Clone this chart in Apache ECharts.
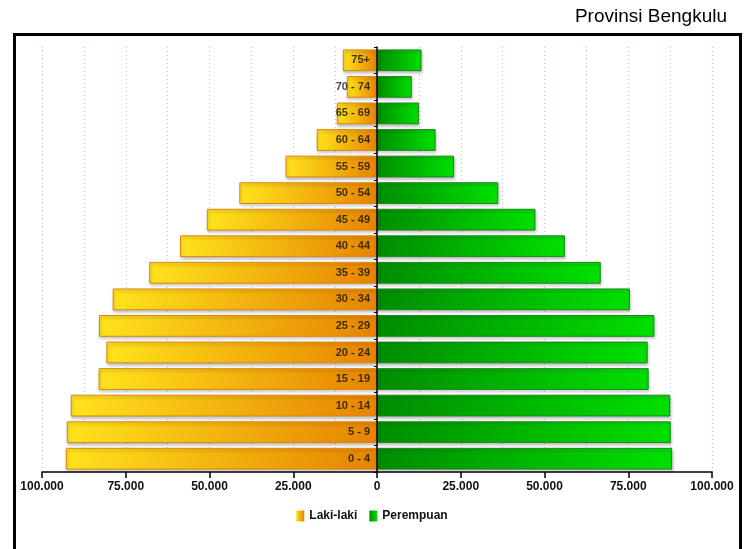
<!DOCTYPE html>
<html>
<head>
<meta charset="utf-8">
<script src="https://cdn.jsdelivr.net/npm/echarts@6/dist/echarts.min.js"></script>
<style>
  html, body { margin: 0; padding: 0; background: #fff; }
  #chart { width: 744px; height: 549px; }
</style>
</head>
<body>
<div id="chart"></div>
<script>
// Age groups, bottom to top
const categories = ['0 - 4', '5 - 9', '10 - 14', '15 - 19', '20 - 24', '25 - 29', '30 - 34', '35 - 39',
                    '40 - 44', '45 - 49', '50 - 54', '55 - 59', '60 - 64', '65 - 69', '70 - 74', '75+'];
// Male population (Laki-laki)
const male = [92900, 92600, 91400, 83100, 80800, 83000, 78900, 68000,
              58800, 50800, 41100, 27300, 18000, 12000, 9000, 10200];
// Female population (Perempuan)
const female = [88100, 87700, 87500, 81100, 80800, 82800, 75500, 66800,
                56100, 47300, 36200, 23000, 17500, 12500, 10400, 13300];

const labelFont = "'Liberation Sans', Arial, sans-serif";

function fmt(v) {
  return String(Math.abs(v)).replace(/\B(?=(\d{3})+(?!\d))/g, '.');
}

const chart = echarts.init(document.getElementById('chart'), null, { renderer: 'canvas' });

const option = {
  animation: false,
  backgroundColor: '#ffffff',
  title: {
    text: 'Provinsi Bengkulu',
    right: 12,
    top: 2,
    textStyle: { fontFamily: "'Liberation Sans', sans-serif", fontWeight: 'normal', fontSize: 19, color: '#000' }
  },
  graphic: [{
    type: 'rect',
    z: 100,
    shape: { x: 14.5, y: 34.5, width: 726, height: 600 },
    style: { fill: 'none', stroke: '#000', lineWidth: 3 },
    silent: true
  }],
  legend: {
    top: 505,
    left: 'center',
    icon: 'rect',
    itemWidth: 8,
    itemHeight: 11,
    itemGap: 12,
    itemStyle: { borderWidth: 0, shadowBlur: 0, shadowOffsetX: 0, shadowOffsetY: 0 },
    textStyle: { fontFamily: labelFont, fontWeight: 'bold', fontSize: 12, color: '#111' },
    data: ['Laki-laki', 'Perempuan']
  },
  grid: { left: 42, right: 32, top: 47, bottom: 77, containLabel: false, outerBoundsMode: 'none' },
  xAxis: {
    type: 'value',
    min: -100000,
    max: 100000,
    interval: 25000,
    axisLine: { show: true, lineStyle: { color: '#000', width: 1.5 } },
    axisTick: { show: true, length: 6, lineStyle: { color: '#000', width: 1.5 } },
    axisLabel: {
      margin: 9,
      fontFamily: labelFont, fontWeight: 'bold', fontSize: 12, color: '#111',
      formatter: fmt
    },
    splitLine: { show: true, lineStyle: { color: '#9ccbe6', type: [1, 3], width: 1 } },
    minorTick: { show: false, splitNumber: 2 },
    minorSplitLine: { show: true, lineStyle: { color: '#9ccbe6', type: [1, 3], width: 1 } }
  },
  yAxis: {
    type: 'category',
    data: categories,
    z: 10,
    axisLine: { show: true, onZero: true, lineStyle: { color: '#000', width: 1.5 } },
    axisTick: { show: true, length: 3, lineStyle: { color: '#000' } },
    axisLabel: { show: false },
    splitLine: { show: false }
  },
  series: [
    {
      name: 'Laki-laki',
      type: 'bar',
      stack: 'pop',
      barCategoryGap: '18%',
      data: male.map(v => -v),
      itemStyle: {
        color: new echarts.graphic.LinearGradient(0, 0, 1, 0, [
          { offset: 0, color: '#ffe31c' },
          { offset: 1, color: '#e68300' }
        ]),
        borderColor: '#e08612',
        borderWidth: 1,
        shadowColor: 'rgba(0,0,0,0.25)',
        shadowBlur: 3,
        shadowOffsetX: 1,
        shadowOffsetY: 2
      }
    },
    {
      name: 'Perempuan',
      type: 'bar',
      stack: 'pop',
      barCategoryGap: '18%',
      data: female,
      itemStyle: {
        color: new echarts.graphic.LinearGradient(0, 0, 1, 0, [
          { offset: 0, color: '#008c00' },
          { offset: 1, color: '#00e000' }
        ]),
        borderColor: '#1f861f',
        borderWidth: 1,
        shadowColor: 'rgba(0,0,0,0.25)',
        shadowBlur: 3,
        shadowOffsetX: 1,
        shadowOffsetY: 2
      }
    },
    {
      name: 'ageLabels',
      type: 'scatter',
      z: 20,
      silent: true,
      symbolSize: 0,
      data: categories.map(c => [0, c]),
      label: {
        show: true,
        position: 'left',
        distance: 7,
        formatter: p => p.value[1],
        fontFamily: labelFont, fontWeight: 'bold', fontSize: 11, color: '#111'
      }
    }
  ]
};

chart.setOption(option);
</script>
</body>
</html>
